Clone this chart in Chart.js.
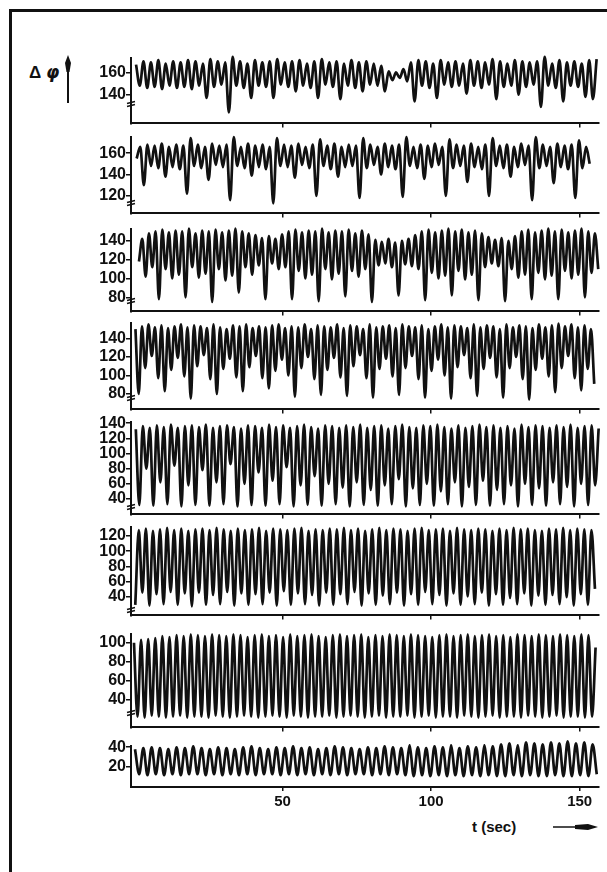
<!DOCTYPE html>
<html>
<head>
<meta charset="utf-8">
<title>Δφ time series</title>
<script src="https://cdn.jsdelivr.net/npm/chart.js@4.4.1/dist/chart.umd.min.js"></script>
<style>
  html, body { margin: 0; padding: 0; background: #fff; }
  #page { position: relative; width: 607px; height: 872px; overflow: hidden; font-family: "Liberation Sans", Arial, sans-serif; }
  #page canvas { position: absolute; left: 0; }
  .frame-top { position: absolute; left: 9px; top: 9px; width: 598px; height: 3px; background: #111; }
  .frame-left { position: absolute; left: 9px; top: 9px; width: 3px; height: 863px; background: #111; }
  .lbl { position: absolute; font-weight: bold; color: #111; white-space: nowrap; }
  svg { position: absolute; overflow: visible; }
</style>
</head>
<body>
<div id="page">
  <div class="frame-top"></div>
  <div class="frame-left"></div>
  <div class="lbl" style="left:29px; top:62px; font-size:17px;">Δ <span style="font-family:'DejaVu Sans'; font-style:italic;">φ</span></div>
  <svg style="left:0; top:0;" width="607" height="872">
    <line x1="68" y1="103" x2="68" y2="64" stroke="#111" stroke-width="2"/>
    <polygon points="68,55 71,63 69.5,72 66.5,72 65,63" fill="#111"/>
    <line x1="553" y1="827" x2="590" y2="827" stroke="#111" stroke-width="1.5"/>
    <polygon points="598,827 588,824 575,825 575,829 588,830" fill="#111"/>
  </svg>
  <div class="lbl" style="left:472px; top:818px; font-size:15px;">t (sec)</div>
</div>

<script>
// ---- axis ranges / tick labels ----
const X_MIN = -1;
const X_MAX = 156.5;
const xTickValues = [50, 100, 150];

const p1Ticks = [140, 160];
const p2Ticks = [120, 140, 160];
const p3Ticks = [80, 100, 120, 140];
const p4Ticks = [80, 100, 120, 140];
const p5Ticks = [40, 60, 80, 100, 120, 140];
const p6Ticks = [40, 60, 80, 100, 120];
const p7Ticks = [40, 60, 80, 100];
const p8Ticks = [20, 40];

// ---- traces: successive extremes (Δφ) ----
// panel 1: cycle length 2.5 s, first extreme at 0.7 s
const p1Peaks = [167,170,169,171,168,170,169,171,170,168,
  172,170,169,174,170,168,171,169,170,172,
  169,170,171,168,170,172,169,170,168,171,
  169,170,168,166,161,160,163,169,171,170,
  168,171,169,170,168,171,170,169,172,170,
  168,171,170,169,170,174,168,171,169,170,
  168,171,172];
const p1Troughs = [148,146,147,145,148,146,147,145,148,137,
  147,149,124,148,146,137,148,147,137,149,
  147,143,148,146,137,149,147,136,148,146,
  143,149,148,143,153,155,152,134,148,146,
  137,149,147,148,141,148,146,149,136,147,
  148,140,147,149,129,148,146,134,148,147,
  138,136];

// panel 2: cycle length 2.42 s, first extreme at 0.9 s
const p2Troughs = [155,130,148,146,138,147,145,122,148,146,
  135,149,147,116,148,146,139,147,145,113,
  148,147,137,149,146,120,148,145,138,147,
  148,118,146,149,140,147,145,119,148,146,
  136,147,149,120,146,148,133,147,145,120,
  148,146,138,147,149,116,146,148,132,147,
  145,118,146,150];
const p2Peaks = [166,168,167,169,166,168,167,174,168,166,
  169,167,168,175,166,169,167,168,166,174,
  168,167,169,166,168,173,167,169,166,168,
  167,174,168,166,169,167,168,175,166,168,
  167,169,166,173,168,167,169,166,168,174,
  167,168,166,169,167,175,168,166,169,167,
  168,172,166];

// panel 3: cycle length 2.24 s, first extreme at 1.68 s
const p3Troughs = [118,102,112,78,110,100,104,80,112,101,
  105,75,110,98,103,85,112,104,114,78,
  116,110,112,78,108,100,104,76,110,99,
  105,81,108,102,110,75,114,116,112,82,
  115,113,110,77,106,100,103,82,108,99,
  104,77,112,116,113,76,110,101,104,78,
  106,99,103,78,108,100,104,80,106,110];
const p3Peaks = [142,148,150,152,149,151,150,153,148,151,
  150,152,149,151,153,150,148,146,143,145,
  142,147,150,152,149,151,150,153,149,151,
  150,152,148,151,147,141,139,142,138,140,
  142,146,150,152,149,151,153,150,152,149,
  151,148,144,141,143,140,145,150,152,149,
  151,153,150,152,149,151,153,150,148];

// panel 4: cycle length 2.19 s, first extreme at 0.5 s
const p4Peaks = [150,153,155,152,154,151,153,155,152,154,
  153,151,155,152,150,154,153,155,151,153,
  152,154,155,151,153,152,155,150,154,153,
  152,155,151,154,153,150,155,152,153,154,
  151,155,153,152,154,150,153,155,152,154,
  153,151,155,152,154,153,150,155,152,154,
  153,151,155,152,154,156,153,155,152,154,
  150];
const p4Troughs = [80,108,121,97,83,106,119,99,75,110,
  122,96,80,107,118,98,83,109,121,97,
  86,105,117,100,77,108,120,96,79,106,
  119,98,78,110,122,97,76,107,118,99,
  79,108,121,96,76,105,117,100,75,109,
  122,97,78,107,119,98,76,108,120,96,
  74,106,118,99,82,108,121,97,84,107,
  91];

// panel 5: cycle length 2.36 s, first extreme at 0.62 s
const p5Peaks = [132,136,134,137,135,138,134,136,137,135,
  138,134,136,137,135,133,137,136,134,138,
  135,137,134,136,138,135,133,137,136,134,
  137,135,138,134,136,137,133,136,138,135,
  134,137,136,138,135,133,137,134,136,138,
  135,137,134,136,133,138,135,137,136,134,
  137,135,138,134,136,137,133];
const p5Troughs = [32,80,31,62,33,84,30,58,32,78,
  31,62,33,86,30,60,32,75,31,64,
  33,82,30,58,32,70,31,60,33,55,
  30,62,32,52,31,58,33,66,30,54,
  32,60,31,50,33,62,30,56,32,64,
  31,52,33,58,30,60,32,54,31,62,
  33,56,30,60,32,58];

// panel 6: cycle length 2.38 s, first extreme at 0.44 s
const p6Troughs = [29,45,28,43,30,46,29,44,27,45,
  29,42,30,46,28,44,29,43,30,45,
  28,47,29,44,30,42,28,45,29,43,
  30,46,28,44,29,41,30,45,28,43,
  29,46,30,42,28,44,29,40,30,45,
  28,43,29,38,30,44,28,41,29,42,
  30,39,28,43,29,50];
const p6Peaks = [128,130,127,129,131,128,130,127,129,130,
  128,131,129,127,130,128,129,131,127,130,
  129,128,130,131,127,129,128,130,129,131,
  128,130,127,129,131,128,130,129,127,130,
  131,128,129,130,127,131,129,128,130,129,
  127,130,128,131,129,130,128,127,130,129,
  131,128,130,129,128];

// panel 7: cycle length 2.39 s, first extreme at 0 s
const p7Peaks = [100,103,104,105,107,106,108,107,109,108,
  107,109,108,107,109,108,106,108,109,107,
  108,106,109,107,108,109,107,106,108,109,
  107,108,109,106,108,107,109,108,107,109,
  108,107,106,108,109,107,108,109,107,108,
  109,107,108,106,109,108,107,109,108,107,
  109,108,107,109,108,95];
const p7Troughs = [22,21,23,22,21,22,23,21,22,22,
  21,23,22,21,22,23,22,21,22,23,
  22,21,23,22,21,22,22,23,21,22,
  23,22,21,22,23,21,22,22,23,21,
  22,23,21,22,22,21,23,22,21,22,
  23,21,22,22,21,23,22,21,22,23,
  21,22,22,21,22];

// panel 8: cycle length 2.8 s, first extreme at 0.35 s
const p8Peaks = [38,39,40,39,38,40,39,41,39,38,
  40,39,38,40,41,39,38,40,39,41,
  39,40,38,39,41,40,39,38,40,39,
  41,40,39,42,40,39,41,40,42,39,
  41,40,42,41,43,44,42,45,44,43,
  45,44,46,44,45,43];
const p8Troughs = [12,11,12,11,12,11,12,12,11,12,
  11,12,11,12,11,12,12,11,12,11,
  12,11,12,11,12,11,12,12,11,12,
  11,12,11,10,11,10,11,10,11,10,
  11,10,11,10,10,11,10,11,10,10,
  11,10,10,11,10,12];

// interleave the two extreme lists on the time axis
function buildSeries(t0, period, first, second) {
  const pts = [];
  const n = Math.max(first.length, second.length);
  for (let j = 0; j < n; j++) {
    if (j < first.length) pts.push({ x: t0 + j * period, y: first[j] });
    if (j < second.length) pts.push({ x: t0 + (j + 0.5) * period, y: second[j] });
  }
  return pts;
}

// panel layout (plot-area top/bottom in page pixels) + value range
const panels = [
  { top: 56,  bottom: 127, min: 114.2, max: 173.3, ticks: p1Ticks, brk: 19, data: buildSeries(0.7, 2.5, p1Peaks, p1Troughs) },
  { top: 135, bottom: 217, min: 103.6, max: 175.5, ticks: p2Ticks, brk: 10, data: buildSeries(0.9, 2.42, p2Troughs, p2Peaks) },
  { top: 227, bottom: 315, min: 65,    max: 153,   ticks: p3Ticks, brk: 10, data: buildSeries(1.68, 2.24, p3Troughs, p3Peaks) },
  { top: 321, bottom: 413, min: 63.4,  max: 157,   ticks: p4Ticks, brk: 11, data: buildSeries(0.5, 2.19, p4Peaks, p4Troughs) },
  { top: 420, bottom: 518, min: 19.6,  max: 142.1, ticks: p5Ticks, brk: 7,  data: buildSeries(0.62, 2.36, p5Peaks, p5Troughs) },
  { top: 525, bottom: 619, min: 15,    max: 132.5, ticks: p6Ticks, brk: 5,  data: buildSeries(0.44, 2.38, p6Troughs, p6Peaks) },
  { top: 632, bottom: 731, min: 10.7,  max: 109.7, ticks: p7Ticks, brk: 14, data: buildSeries(0, 2.39, p7Peaks, p7Troughs) },
  { top: 744, bottom: 787, min: -1.3,  max: 41.7,  ticks: p8Ticks, brk: 0,  data: buildSeries(0.35, 2.8, p8Peaks, p8Troughs) }
];

const INK = '#111';
Chart.defaults.font.family = '"Liberation Sans", Arial, sans-serif';
Chart.defaults.font.weight = 'bold';
Chart.defaults.font.size = 16;
Chart.defaults.color = INK;

// little axis-break strokes on the value axis
const breakMarks = {
  id: 'breakMarks',
  afterDraw(chart, args, opts) {
    if (!opts.offset) return;
    const { ctx, chartArea } = chart;
    const x = chartArea.left;
    const y = chartArea.bottom - opts.offset;
    ctx.save();
    ctx.strokeStyle = INK;
    ctx.lineWidth = 1.5;
    ctx.beginPath();
    ctx.moveTo(x - 4, y - 1); ctx.lineTo(x + 4, y - 3);
    ctx.moveTo(x - 4, y + 2); ctx.lineTo(x + 4, y);
    ctx.stroke();
    ctx.restore();
  }
};

const page = document.getElementById('page');
const PAD_TOP = 8;

panels.forEach((p, i) => {
  const last = i === panels.length - 1;
  const xAxisH = last ? 30 : 6;
  const canvas = document.createElement('canvas');
  canvas.width = 607;
  canvas.height = PAD_TOP + (p.bottom - p.top) + xAxisH;
  canvas.style.top = (p.top - PAD_TOP) + 'px';
  page.appendChild(canvas);

  new Chart(canvas.getContext('2d'), {
    type: 'line',
    data: {
      datasets: [{
        data: p.data,
        borderColor: INK,
        borderWidth: 2.7,
        pointRadius: 0,
        cubicInterpolationMode: 'monotone',
        clip: false
      }]
    },
    options: {
      responsive: false,
      animation: false,
      devicePixelRatio: 1,
      layout: { autoPadding: false, padding: { top: PAD_TOP, right: 8, bottom: 0, left: 0 } },
      plugins: {
        legend: { display: false },
        tooltip: { enabled: false },
        breakMarks: { offset: p.brk }
      },
      scales: {
        x: {
          type: 'linear',
          min: X_MIN,
          max: X_MAX,
          afterBuildTicks: s => { s.ticks = xTickValues.map(v => ({ value: v })); },
          afterFit: s => { s.height = xAxisH; },
          border: { display: true, color: INK, width: 2 },
          grid: { drawOnChartArea: false, drawTicks: true, tickLength: 4, color: INK, lineWidth: 1.5 },
          ticks: { display: last, padding: 2, autoSkip: false, maxRotation: 0, minRotation: 0, font: { size: 15 } }
        },
        y: {
          min: p.min,
          max: p.max,
          afterBuildTicks: s => { s.ticks = p.ticks.map(v => ({ value: v })); },
          afterFit: s => { s.width = 131; },
          border: { display: true, color: INK, width: 2 },
          grid: { drawOnChartArea: false, drawTicks: true, tickLength: 5, color: INK, lineWidth: 1.5 },
          ticks: { padding: 0, autoSkip: false }
        }
      }
    },
    plugins: [breakMarks]
  });
});
</script>
</body>
</html>
